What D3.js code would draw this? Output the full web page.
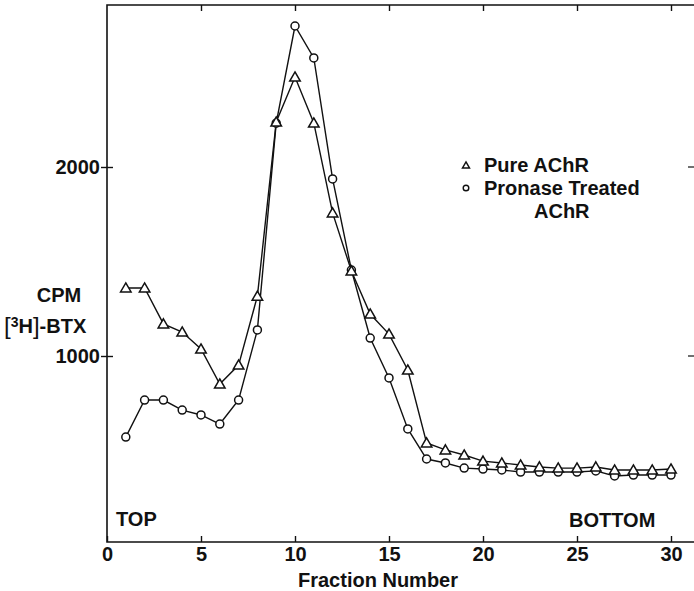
<!DOCTYPE html>
<html>
<head>
<meta charset="utf-8">
<script src="https://cdn.jsdelivr.net/npm/d3@7"></script>
<style>
  body { margin: 0; background: #fff; }
  text { font-family: "Liberation Sans", Arial, sans-serif; font-weight: bold; fill: #111; }
</style>
</head>
<body>
<div id="chart"></div>
<script>
// fraction numbers 1..30
var fractions = [1,2,3,4,5,6,7,8,9,10,11,12,13,14,15,16,17,18,19,20,21,22,23,24,25,26,27,28,29,30]

// [3H]-BTX counts, pure AChR (triangles)
var pureAChR = [1360,1360,1170,1127,1037,852,952,1317,2238,2476,2233,1757,1450,1222,1116,926,
                540,503,476,444,434,423,413,407,407,413,397,397,397,402]

// pronase treated AChR (circles)
var pronaseAChR = [571,767,767,714,688,640,767,1138,2232,2746,2577,1937,1455,1095,884,614,
                   455,434,407,402,397,386,386,386,386,392,365,370,370,370]

var xTicks = [0,5,10,15,20,25,30]
var yTicks = [1000,2000]

var width = 694, height = 591
var fs = 20

var svg = d3.select("#chart")
    .append("svg")
    .attr("width", width)
    .attr("height", height)

var x = d3.scaleLinear().domain([0, 30]).range([107, 671])
var y = d3.scaleLinear().domain([0, 2000]).range([545, 167])

var top0 = 5, bottom0 = 542, left0 = 107, right0 = 694

// frame: left, bottom, top (no right line in the original)
svg.append("path")
    .attr("d", "M" + right0 + "," + top0 + "H" + left0 + "V" + bottom0 + "H" + right0)
    .attr("fill", "none")
    .attr("stroke", "#111")
    .attr("stroke-width", 1.6)

// bottom axis ticks point up, labels below
var bottomAxis = svg.append("g")
    .attr("transform", "translate(0," + bottom0 + ")")
    .call(d3.axisBottom(x).tickValues(xTicks).tickSizeInner(-6).tickSizeOuter(0).tickPadding(5))
bottomAxis.select(".domain").remove()
bottomAxis.selectAll("line").attr("stroke", "#111").attr("stroke-width", 1.4)
bottomAxis.selectAll("text")
    .attr("font-size", fs)
    .attr("font-family", "Liberation Sans, Arial, sans-serif")
    .attr("font-weight", "bold")
    .attr("fill", "#111")

// top axis ticks point down
var topAxis = svg.append("g")
    .attr("transform", "translate(0," + top0 + ")")
    .call(d3.axisTop(x).tickValues(xTicks.slice(1)).tickSizeInner(-6).tickSizeOuter(0).tickFormat(""))
topAxis.select(".domain").remove()
topAxis.selectAll("line").attr("stroke", "#111").attr("stroke-width", 1.4)

// left axis, ticks cross the line
var leftAxis = svg.append("g")
    .attr("transform", "translate(" + left0 + ",0)")
    .call(d3.axisLeft(y).tickValues(yTicks).tickFormat(d3.format("d")).tickSizeInner(6).tickSizeOuter(0))
leftAxis.select(".domain").remove()
leftAxis.selectAll("line").attr("x2", 6).attr("x1", -6).attr("stroke", "#111").attr("stroke-width", 1.4)
leftAxis.selectAll("text")
    .attr("x", -7)
    .attr("font-size", fs)
    .attr("font-family", "Liberation Sans, Arial, sans-serif")
    .attr("font-weight", "bold")
    .attr("fill", "#111")

// small right-hand ticks
svg.selectAll(".rtick")
    .data(yTicks)
    .enter()
    .append("line")
    .attr("x1", 688).attr("x2", 694)
    .attr("y1", function (d) { return y(d) }).attr("y2", function (d) { return y(d) })
    .attr("stroke", "#111").attr("stroke-width", 1.2)

// y axis title
svg.append("text").attr("x", 59).attr("y", 302).attr("text-anchor", "middle")
    .attr("font-size", fs).text("CPM")
var btx = svg.append("text").attr("x", 4).attr("y", 333).attr("font-size", fs)
btx.append("tspan").attr("font-size", 24).attr("font-weight", "normal").attr("dy", 1).text("[")
btx.append("tspan").attr("font-size", 14).attr("dy", -7).text("3")
btx.append("tspan").attr("dy", 6).text("H")
btx.append("tspan").attr("font-size", 24).attr("font-weight", "normal").attr("dy", 1).text("]")
btx.append("tspan").attr("dy", -1).text("-BTX")

svg.append("text").attr("x", 116).attr("y", 526).attr("font-size", fs).text("TOP")
svg.append("text").attr("x", 569).attr("y", 527).attr("font-size", fs).text("BOTTOM")
svg.append("text").attr("x", 378).attr("y", 587).attr("text-anchor", "middle")
    .attr("font-size", fs).text("Fraction Number")

// lines
var line = function (vals) {
    return d3.line()
        .x(function (d, i) { return x(fractions[i]) })
        .y(function (d) { return y(d) })(vals)
}

svg.append("path").attr("d", line(pronaseAChR))
    .attr("fill", "none").attr("stroke", "#111").attr("stroke-width", 1.4)
svg.append("path").attr("d", line(pureAChR))
    .attr("fill", "none").attr("stroke", "#111").attr("stroke-width", 1.4)

var tri = d3.symbol().type(d3.symbolTriangle).size(48)
var tri_small = d3.symbol().type(d3.symbolTriangle).size(22)

svg.selectAll(".circ")
    .data(pronaseAChR)
    .enter()
    .append("circle")
    .attr("cx", function (d, i) { return x(fractions[i]) })
    .attr("cy", function (d) { return y(d) })
    .attr("r", 4)
    .attr("fill", "#fff").attr("stroke", "#111").attr("stroke-width", 1.5)

svg.selectAll(".tri")
    .data(pureAChR)
    .enter()
    .append("path")
    .attr("d", tri)
    .attr("transform", function (d, i) { return "translate(" + x(fractions[i]) + "," + (y(d) + 1) + ")" })
    .attr("fill", "#fff").attr("stroke", "#111").attr("stroke-width", 1.5)

// legend
svg.append("path").attr("d", tri_small)
    .attr("transform", "translate(466,166)")
    .attr("fill", "#fff").attr("stroke", "#111").attr("stroke-width", 1.4)
svg.append("circle").attr("cx", 466).attr("cy", 188).attr("r", 2.8)
    .attr("fill", "#fff").attr("stroke", "#111").attr("stroke-width", 1.4)
svg.append("text").attr("x", 484).attr("y", 172).attr("font-size", fs).text("Pure AChR")
svg.append("text").attr("x", 484).attr("y", 195).attr("font-size", fs).text("Pronase Treated")
svg.append("text").attr("x", 534).attr("y", 218).attr("font-size", fs).text("AChR")
</script>
</body>
</html>
